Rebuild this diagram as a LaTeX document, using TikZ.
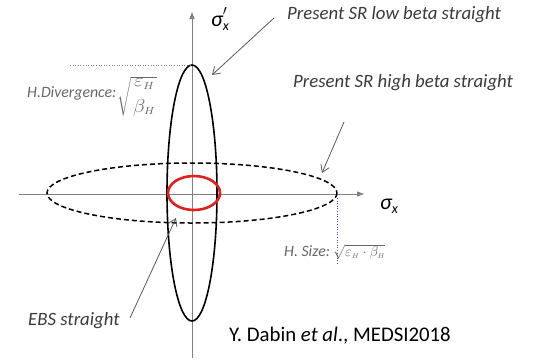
\documentclass[tikz,border=0pt]{standalone}
\usepackage{graphicx}
\usepackage{fontspec}
\setmainfont{Carlito}
\usetikzlibrary{arrows.meta}
\definecolor{axisgray}{HTML}{808080}
\definecolor{txtgray}{HTML}{3A3A3A}
\definecolor{ebsred}{HTML}{E0201E}
\tikzset{
  axisline/.style={draw=axisgray, line width=0.9pt, -{Triangle[length=7pt,width=5pt]}},
  pointer/.style={draw=black!65, line width=0.8pt, -{Straight Barb[length=7pt,width=9pt]}},
  lbl/.style={font=\fontsize{18.8}{20}\selectfont\itshape, text=txtgray, inner sep=0pt},
  small/.style={font=\fontsize{15.8}{17}\selectfont\itshape, text=black!60, inner sep=0pt},
  guide/.style={draw=axisgray, line width=0.6pt, dotted},
  axlbl/.style={inner sep=0pt, font=\fontsize{22}{24}\selectfont\itshape},
}
\begin{document}
\begin{tikzpicture}[x=1pt,y=-1pt]
\useasboundingbox (0,0) rectangle (536,360);
% axes
\coordinate (xs) at (19,194);
\coordinate (xe) at (364,194);
\coordinate (ys) at (192,358);
\coordinate (ye) at (192,12);
\draw[axisline] (xs) -- (xe);
\draw[axisline] (ys) -- (ye);
\node[axlbl] (sx) at (389,206) {σ\raisebox{-0.4ex}{\fontsize{14}{16}\selectfont x}};
\node[axlbl] (spx) at (220,19) {σ\rlap{\raisebox{0.35ex}{$^{\prime}$}}\raisebox{-0.4ex}{\fontsize{14}{16}\selectfont x}};
% ellipses
\coordinate (c) at (192,193);
\draw[black, line width=1.6pt] (c) ellipse [x radius=25, y radius=128];
\draw[black, line width=1.5pt, dash pattern=on 5pt off 3pt] (c) ellipse [x radius=145, y radius=30];
\draw[ebsred, line width=2.6pt] (194,193) ellipse [x radius=26, y radius=17];
% guides
\coordinate (g1a) at (70,65);
\coordinate (g1b) at (192,65);
\draw[guide] (g1a) -- (g1b);
\coordinate (g2a) at (337,198);
\coordinate (g2b) at (337,265);
\draw[guide, draw=blue!40!gray] (g2a) -- (g2b);
% labels
\node[lbl, anchor=west] (low) at (287,15) {Present SR low beta straight};
\node[lbl, anchor=west] (high) at (293,83) {Present SR high beta straight};
\node[lbl, anchor=west] (ebs) at (28,321) {EBS straight};
\node[inner sep=0pt, anchor=west, font=\fontsize{20.8}{22}\selectfont, text=black] (cite) at (229,336) {Y. Dabin \textit{et al}., MEDSI2018};
\node[small, anchor=base west] (hdiv) at (27,97) {H.Divergence:\kern1pt\raisebox{-0.3ex}{\scalebox{1.4}[1.3]{\upshape$\sqrt{\displaystyle{\varepsilon_{\scriptscriptstyle H}\atop\beta_{\scriptscriptstyle H}}}$}}};
\node[small, anchor=west] (hsize) at (284,252) {H. Size:\kern3pt{\upshape\fontsize{14.5}{16}\selectfont$\sqrt{\varepsilon_{\scriptscriptstyle H}\cdot\beta_{\scriptscriptstyle H}}$}};
% pointers
\coordinate (p1s) at (274,18);
\coordinate (p1e) at (212,75);
\draw[pointer] (p1s) -- (p1e);
\coordinate (p2s) at (344,122);
\coordinate (p2e) at (322,173);
\draw[pointer] (p2s) -- (p2e);
\coordinate (p3s) at (130,318);
\coordinate (p3e) at (176,218);
\draw[pointer] (p3s) -- (p3e);
\end{tikzpicture}
\end{document}
